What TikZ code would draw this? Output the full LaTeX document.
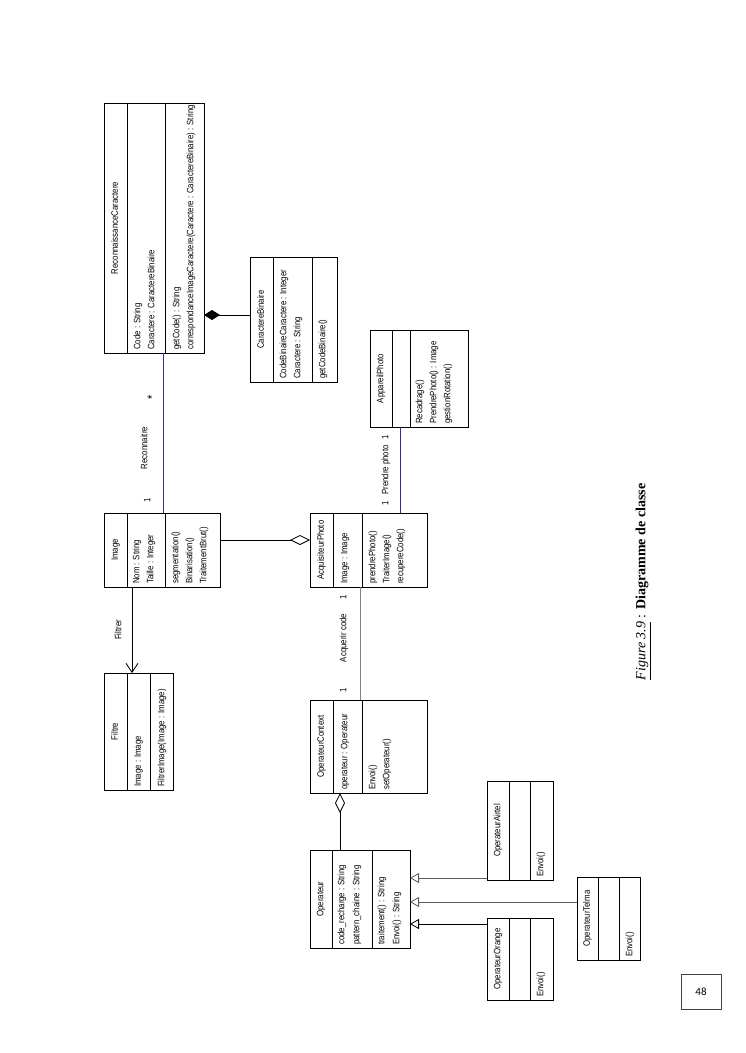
\documentclass[tikz,border=0pt]{standalone}
\usepackage{fontspec}
\setmainfont{Liberation Serif}
\newfontfamily\umlf[FakeStretch=0.84]{Liberation Sans}
\newfontfamily\pgnf{Carlito}
\usetikzlibrary{arrows.meta}
\definecolor{assocblue}{RGB}{45,45,150}
\definecolor{assocgray}{RGB}{130,130,130}
\definecolor{gengray}{RGB}{90,90,90}
\begin{document}
\begin{tikzpicture}[x=1pt,y=-1pt,
  cls/.style={draw=black,line width=0.8pt},
  txt/.style={rotate=90,anchor=west,inner sep=0pt,font=\umlf\fontsize{9.3}{10}\selectfont,text height=6.5pt,text depth=2pt},
  ttl/.style={txt,anchor=center},
  assoc/.style={draw=assocblue,line width=1pt},
  assocg/.style={draw=assocgray,line width=0.8pt},
  aggr/.style={draw=black,line width=0.8pt,-{Diamond[open,length=20pt,width=10pt]}},
  compo/.style={draw=black,line width=0.8pt,-{Diamond[length=16pt,width=10pt]}},
  gen/.style={line width=0.8pt,-{Triangle[open,length=9pt,width=10pt]}},
  dep/.style={draw=black,line width=0.8pt,-{Straight Barb[length=9pt,width=12pt]}}]
\useasboundingbox (0,0) rectangle (745,1053);

% ReconnaissanceCaractere
\draw[cls] (104,103) rectangle (204,353);
\draw[cls] (127,103) -- (127,353) (165,103) -- (165,353);
\node[ttl] (recN) at (115.5,228) {ReconnaissanceCaractere};
\node[txt] (recA1) at (138,350) {Code : String};
\node[txt] (recA2) at (152,350) {Caractere : CaractereBinaire};
\node[txt] (recO1) at (177,350) {getCode() : String};
\node[txt] (recO2) at (191,350) {correspondanceImageCaractere(Caractere : CaractereBinaire) : String};

% CaractereBinaire
\draw[cls] (250,257) rectangle (337,382);
\draw[cls] (273,257) -- (273,382) (312,257) -- (312,382);
\node[ttl] (cbN) at (261.5,319.5) {CaractereBinaire};
\node[txt] (cbA1) at (284,379) {CodeBinaireCaractere : Integer};
\node[txt] (cbA2) at (298,379) {Caractere : String};
\node[txt] (cbO1) at (323,379) {getCodeBinaire()};

% Image
\draw[cls] (104,513) rectangle (220,587);
\draw[cls] (127,513) -- (127,587) (165,513) -- (165,587);
\node[ttl] (imgN) at (115.5,550) {Image};
\node[txt] (imgA1) at (137,584) {Nom : String};
\node[txt] (imgA2) at (151,584) {Taille : Integer};
\node[txt] (imgO1) at (176,584) {segmentation()};
\node[txt] (imgO2) at (190,584) {Binarisation()};
\node[txt] (imgO3) at (204,584) {TraitementBrut()};

% Filtre
\draw[cls] (104,673) rectangle (173,790);
\draw[cls] (127,673) -- (127,790) (150,673) -- (150,790);
\node[ttl] (filN) at (115.5,731.5) {Filtre};
\node[txt] (filA1) at (138.5,787) {Image : Image};
\node[txt] (filO1) at (162,787) {FiltrerImage(Image : Image)};

% AcquisiteurPhoto
\draw[cls] (310,513) rectangle (427,587);
\draw[cls] (333,513) -- (333,587) (362,513) -- (362,587);
\node[ttl] (acqN) at (321.5,550) {AcquisiteurPhoto};
\node[txt] (acqA1) at (345,584) {Image : Image};
\node[txt] (acqO1) at (373,584) {prendrePhoto()};
\node[txt] (acqO2) at (387,584) {TraiterImage()};
\node[txt] (acqO3) at (401,584) {recupereCode()};

% AppareilPhoto
\draw[cls] (370,330) rectangle (468,427);
\draw[cls] (392,330) -- (392,427) (410,330) -- (410,427);
\node[ttl] (appN) at (381,378.5) {AppareilPhoto};
\node[txt] (appO1) at (420,424) {Recadrage()};
\node[txt] (appO2) at (434,424) {PrendrePhoto() : Image};
\node[txt] (appO3) at (448,424) {gestionRotation()};

% OperateurContext
\draw[cls] (310,700) rectangle (427,793);
\draw[cls] (333,700) -- (333,793) (362,700) -- (362,793);
\node[ttl] (ctxN) at (321.5,746.5) {OperateurContext};
\node[txt] (ctxA1) at (345,790) {operateur : Operateur};
\node[txt] (ctxO1) at (373,790) {Envoi()};
\node[txt] (ctxO2) at (387,790) {setOperateur()};

% Operateur
\draw[cls] (310,850) rectangle (410,948);
\draw[cls] (332,850) -- (332,948) (372,850) -- (372,948);
\node[ttl] (opN) at (321,899) {Operateur};
\node[txt] (opA1) at (342,945) {code\_recharge : String};
\node[txt] (opA2) at (357,945) {pattern\_chaine : String};
\node[txt] (opO1) at (382,945) {traitement() : String};
\node[txt] (opO2) at (397,945) {Envoi() : String};

% OperateurAirtel
\draw[cls] (487,781) rectangle (553,880);
\draw[cls] (509,781) -- (509,880) (530,781) -- (530,880);
\node[ttl] (airN) at (498,830.5) {OperateurAirtel};
\node[txt] (airO1) at (541,877) {Envoi()};

% OperateurTelma
\draw[cls] (577,877) rectangle (640,960);
\draw[cls] (598,877) -- (598,960) (619,877) -- (619,960);
\node[ttl] (telN) at (587.5,918.5) {OperateurTelma};
\node[txt] (telO1) at (630,957) {Envoi()};

% OperateurOrange
\draw[cls] (487,918) rectangle (553,1000);
\draw[cls] (509,918) -- (509,1000) (530,918) -- (530,1000);
\node[ttl] (orgN) at (498,959) {OperateurOrange};
\node[txt] (orgO1) at (541,997) {Envoi()};

% connector end points
\coordinate (recB) at (163.5,353);
\coordinate (imgT) at (163.5,513);
\coordinate (recR) at (204,315);
\coordinate (cbL) at (250,315);
\coordinate (imgB) at (132,587);
\coordinate (filT) at (132,673);
\coordinate (imgR) at (220,540);
\coordinate (acqL) at (310,540);
\coordinate (acqT) at (400,513);
\coordinate (appB) at (400,427);
\coordinate (acqB) at (360,587);
\coordinate (ctxT) at (360,700);
\coordinate (ctxB) at (340,793);
\coordinate (opT) at (340,850);
\coordinate (opR1) at (410,878);
\coordinate (opR2) at (410,902);
\coordinate (opR3) at (410,924);
\coordinate (airL) at (487,878);
\coordinate (telL) at (577,902);
\coordinate (orgL) at (487,924);

% connectors
\draw[assoc] (recB) -- (imgT);
\draw[compo] (cbL) -- (recR);
\draw[dep] (imgB) -- (filT);
\draw[aggr] (imgR) -- (acqL);
\draw[assoc] (acqT) -- (appB);
\draw[assocg] (acqB) -- (ctxT);
\draw[aggr] (opT) -- (ctxB);
\draw[gen,draw=gengray] (airL) -- (opR1);
\draw[gen,draw=gengray] (telL) -- (opR2);
\draw[gen,draw=black] (orgL) -- (opR3);

% labels
\node[ttl,font=\umlf\fontsize{13}{13}\selectfont] (lStar) at (154,397) {*};
\node[ttl] (lReco) at (145,448) {Reconnaitre};
\node[ttl] (lReco1) at (148,500) {1};
\node[ttl] (lFil) at (119,630) {Filtrer};
\node[ttl] (lPp1) at (386,503) {1};
\node[ttl] (lPp) at (386,470) {Prendre photo};
\node[ttl] (lPp2) at (386,437) {1};
\node[ttl] (lAc1) at (344,597) {1};
\node[ttl] (lAc) at (344,638) {Acquerir code};
\node[ttl] (lAc2) at (344,690) {1};

% caption
\node[rotate=90,inner sep=0pt,font=\fontsize{14}{16}\selectfont] (cap) at (643,582)
  {\underline{\textit{Figure 3.9}} : \textbf{Diagramme de classe}};

% page number
\draw[gray!60,line width=0.6pt,rotate around={3:(701,991)}] (683,976) rectangle (719,1007);
\draw[gray!60,line width=0.6pt,rotate around={-3:(701,991)}] (683,976) rectangle (719,1007);
\draw[draw=gray!50!black,fill=white,line width=0.6pt] (681,974) rectangle (721,1009);
\node[font=\pgnf\fontsize{11}{12}\selectfont,inner sep=0pt] (pg) at (701,991.5) {48};
\end{tikzpicture}
\end{document}
